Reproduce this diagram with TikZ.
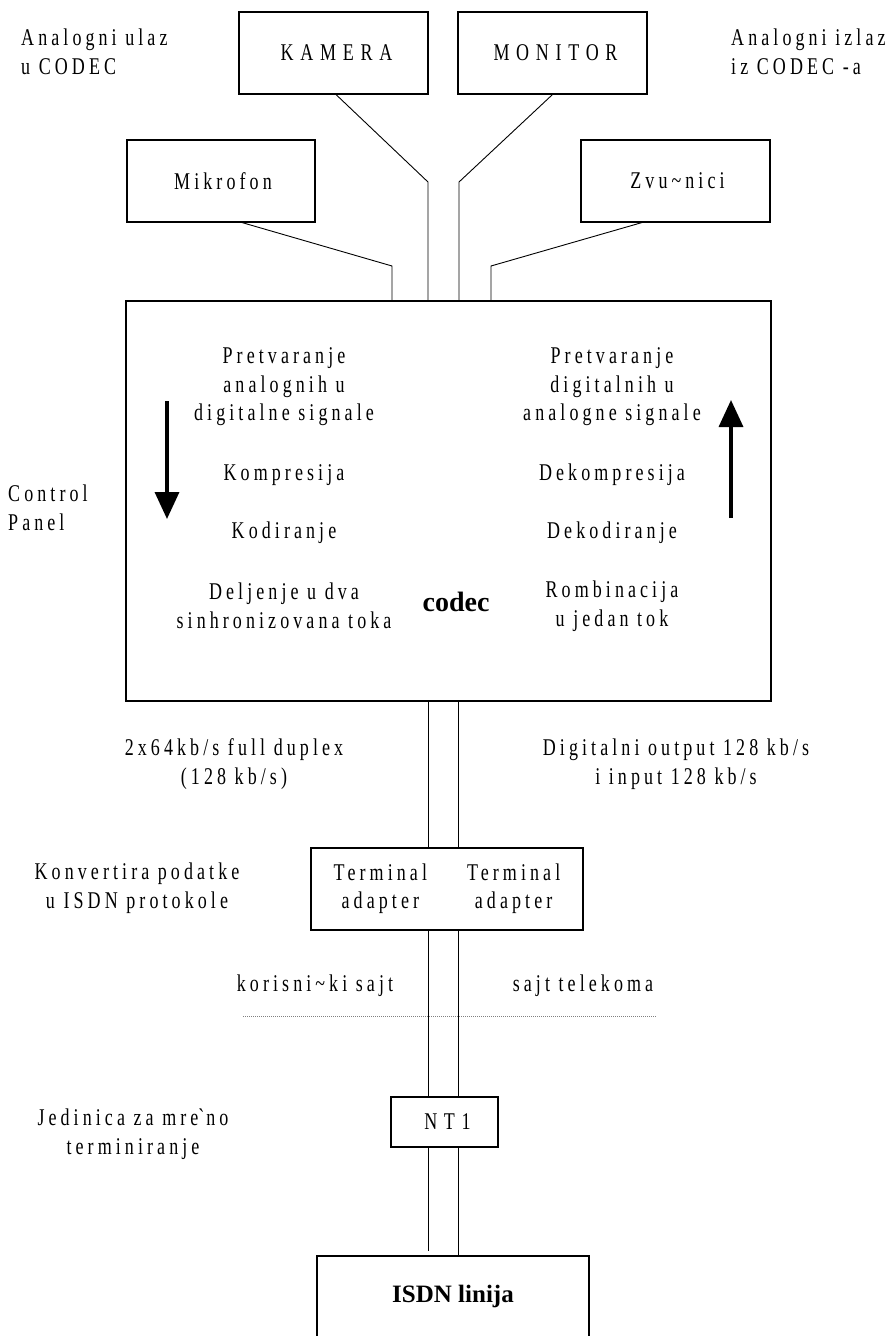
\documentclass[tikz,border=0pt]{standalone}
\usepackage{fontspec}
\setmainfont{Liberation Serif}
\newfontfamily\spfont[FakeStretch=0.75,LetterSpace=17]{Liberation Serif}
\newfontfamily\capfont[FakeStretch=0.75,LetterSpace=28]{Liberation Serif}
\usetikzlibrary{arrows.meta}
\begin{document}
\begin{tikzpicture}[x=1pt,y=-1pt,
  box/.style={draw, line width=1.1pt, inner sep=0pt},
  txt/.style={inner sep=0pt, align=center, font=\spfont\fontsize{24}{28.5}\selectfont},
  captxt/.style={inner sep=0pt, align=center, font=\capfont\fontsize{24}{28.5}\selectfont},
  boldtxt/.style={inner sep=0pt, font=\bfseries\fontsize{#1}{30}\selectfont},
  wire/.style={line width=0.9pt},
  fat/.style={line width=3.5pt, -{Triangle[length=27pt,width=24pt]}},
  dots/.style={gray, line width=0.6pt, dash pattern=on 1pt off 1pt},
  ]
\useasboundingbox (0,0) rectangle (887,1336);
\fill[white] (0,0) rectangle (887,1336);
\clip (0,0) rectangle (887,1336);

% top devices
\node[box, captxt, minimum width=189pt, minimum height=82pt] (kamera) at (333.5,53) {KAMERA\kern-6pt};
\node[box, captxt, minimum width=189pt, minimum height=82pt] (monitor) at (552.5,53) {MONITOR\kern-6pt};
\node[box, txt, minimum width=188pt, minimum height=82pt] (mikrofon) at (221,181) {Mikrofon\kern-4pt};
\node[box, txt, minimum width=189pt, minimum height=82pt] (zvucnici) at (675.5,181) {Zvu\textasciitilde nici\kern-4pt};

\node[txt, align=left, anchor=west] (ain) at (21,52) {Analogni ulaz\\u CODEC};
\node[txt, align=left, anchor=west] (aout) at (731,52) {Analogni izlaz\\iz CODEC -a};

% codec
\node[box, minimum width=645pt, minimum height=400pt] (codec) at (448.5,501) {};
\node[txt] (l1) at (284,387) {Pretvaranje\\analognih u\\digitalne signale};
\node[txt] (l2) at (284,475) {Kompresija};
\node[txt] (l3) at (284,533) {Kodiranje};
\node[txt] (l4) at (284,606) {Deljenje u dva\\sinhronizovana toka};
\node[txt] (r1) at (612,387) {Pretvaranje\\digitalnih u\\analogne signale};
\node[txt] (r2) at (612,475) {Dekompresija};
\node[txt] (r3) at (612,533) {Dekodiranje};
\node[txt] (r4) at (612,606) {Rombinacija\\u jedan tok};
\node[boldtxt=28] (codectxt) at (456,602) {codec};
\node[txt, align=left, anchor=west] (cp) at (8,508) {Control\\Panel};

\coordinate (a1s) at (167,401);
\coordinate (a1e) at (167,519);
\coordinate (a2s) at (731,518);
\coordinate (a2e) at (731,400);
\draw[fat] (a1s) -- (a1e);
\draw[fat] (a2s) -- (a2e);

% connectors from devices
\coordinate (kb) at (428,182);
\coordinate (mb) at (459,182);
\coordinate (mkb) at (392,266);
\coordinate (zb) at (491,266);
\draw[wire] ([xshift=2.5pt]kamera.south) -- (kb) -- (kb |- codec.north);
\draw[wire] (monitor.south) -- (mb) -- (mb |- codec.north);
\draw[wire] ([xshift=21pt]mikrofon.south) -- (mkb) -- (mkb |- codec.north);
\draw[wire] ([xshift=-33.5pt]zvucnici.south) -- (zb) -- (zb |- codec.north);

% lower chain
\node[txt] (rate1) at (234,764) {2x64kb/s full duplex\\(128 kb/s)};
\node[txt] (rate2) at (676,764) {Digitalni output 128 kb/s\\i input 128 kb/s};

\node[box, txt, minimum width=272pt, minimum height=82pt] (ta) at (447,889)
  {\begin{tabular}{@{}c@{\hspace{40pt}}c@{}}Terminal & Terminal\\ adapter & adapter\end{tabular}};
\node[txt] (konv) at (137,888) {Konvertira podatke\\u ISDN protokole};

\node[txt] (kor) at (315,986) {korisni\textasciitilde ki sajt};
\node[txt] (tel) at (583,986) {sajt telekoma};
\coordinate (d1) at (243,1016);
\coordinate (d2) at (657,1016);
\draw[dots] (d1) -- (d2);

\node[box, captxt, minimum width=107pt, minimum height=50pt] (nt1) at (444.5,1122) {NT1\kern-6pt};
\node[txt] (jed) at (133,1134) {Jedinica za mre\textasciigrave no\\terminiranje};

\node[box, minimum width=272pt, minimum height=100pt] (isdn) at (453,1306) {};
\node[boldtxt=25] (isdntxt) at (453,1296) {ISDN linija};

\coordinate (bl) at (428,0);
\coordinate (br) at (458,0);
\draw[wire] (bl |- codec.south) -- (bl |- ta.north);
\draw[wire] (br |- codec.south) -- (br |- ta.north);
\draw[wire] (bl |- ta.south) -- (bl |- nt1.north);
\draw[wire] (br |- ta.south) -- (br |- nt1.north);
\draw[wire] (bl |- nt1.south) -- ([yshift=4pt]bl |- isdn.north);
\draw[wire] (br |- nt1.south) -- (br |- isdn.north);
\end{tikzpicture}
\end{document}
